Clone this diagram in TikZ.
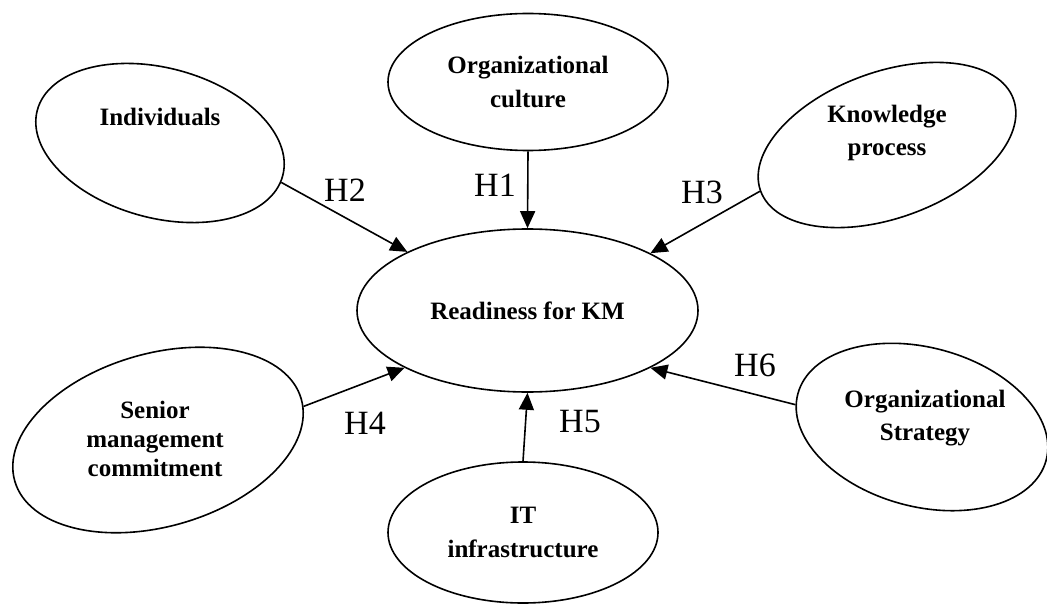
\documentclass[tikz,border=0pt]{standalone}
\usepackage{fontspec}
\setmainfont{Liberation Serif}
\usetikzlibrary{shapes.geometric,arrows.meta}

\begin{document}
\begin{tikzpicture}[x=0.5pt,y=-0.5pt]
                \tikzstyle{ell}=[ellipse, draw, line width=0.8pt, inner sep=0pt, align=center, font=\bfseries\fontsize{12.5}{17}\selectfont]
                \tikzstyle{txt}=[align=center, inner sep=0pt, font=\bfseries\fontsize{12.5}{16.5}\selectfont]
                \tikzstyle{hyp}=[inner sep=0pt, font=\fontsize{17}{20}\selectfont]
                \tikzstyle{arr}=[line width=0.8pt, -{Triangle[length=8.5pt,width=7.5pt]}]

                \useasboundingbox (0,0) rectangle (1047,604);

                \node[ell, minimum width=170.5pt, minimum height=81.5pt] (ready) at (527.5,310.5) {Readiness for KM};
                \node[ell, minimum width=140pt, minimum height=68.5pt] (cult) at (528,82) {Organizational\\culture};
                \node[ell, minimum width=135pt, minimum height=70.5pt] (it) at (523,532.5) {IT\\infrastructure};
                \node[ell, rotate=-15, minimum width=127pt, minimum height=75pt] (ind) at (160,143) {};
                \node[ell, rotate=20, minimum width=134.5pt, minimum height=73pt] (know) at (887,145) {};
                \node[ell, rotate=16, minimum width=149pt, minimum height=86.5pt] (sen) at (158,440) {};
                \node[ell, rotate=-15, minimum width=128.5pt, minimum height=79.5pt] (strat) at (922,427) {};

                \node[txt] (indtxt) at (160,117) {Individuals};
                \node[txt] (knowtxt) at (887,133) {Knowledge\\process};
                \node[txt, font=\bfseries\fontsize{12.5}{14.5}\selectfont] (sentxt) at (155,439) {Senior\\management\\commitment};
                \node[txt] (strattxt) at (925,418) {Organizational\\Strategy};

                \draw[arr] (cult.south) -- (ready.north);
                \draw[arr] (ind.-3) -- (ready.154);
                \draw[arr] (know.180) -- (ready.25);
                \draw[arr] (sen.-3) -- (ready.205);
                \draw[arr] (it.north) -- (ready.south);
                \draw[arr] (strat.185) -- (ready.-25);

                \node[hyp] (h1) at (495,185) {H1};
                \node[hyp] (h2) at (345,190) {H2};
                \node[hyp] (h3) at (702,192) {H3};
                \node[hyp] (h4) at (365,423) {H4};
                \node[hyp] (h5) at (580,422) {H5};
                \node[hyp] (h6) at (755,365) {H6};
            \end{tikzpicture}
\end{document}
